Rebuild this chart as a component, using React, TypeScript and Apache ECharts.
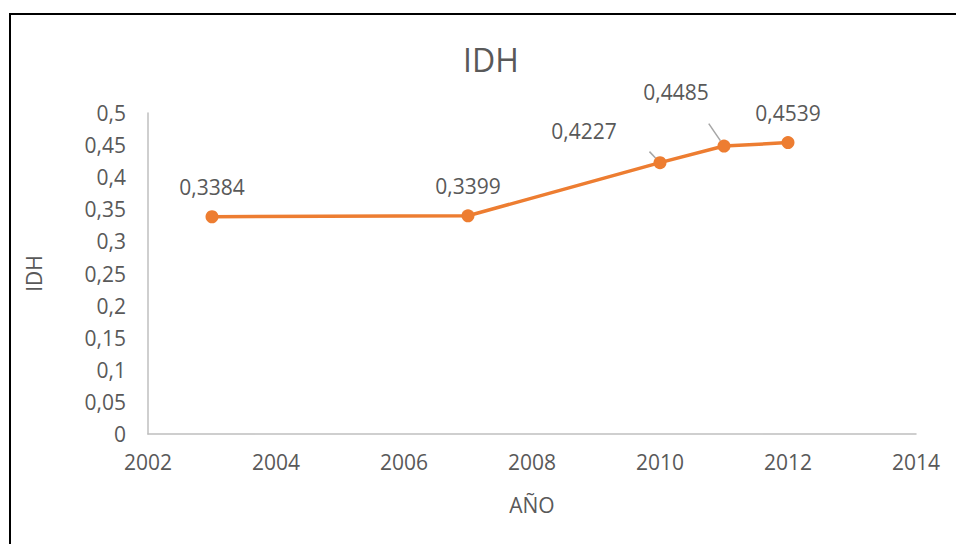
import React, { useEffect, useRef } from "react";
import * as echarts from "echarts";

const years = [2003, 2007, 2010, 2011, 2012];
const idh = [0.3384, 0.3399, 0.4227, 0.4485, 0.4539];
const labelOffsets: [number, number][] = [[0, 0], [0, 0], [-76, -2], [-48, -24], [0, 0]];
const showGuide = [false, false, true, true, false];

const fmt = (v: number) => String(v).replace(".", ",");

export default function App() {
  const ref = useRef<HTMLDivElement>(null);
  useEffect(() => {
    const chart = echarts.init(ref.current!, null, { renderer: "svg" });
    const font = "Open Sans";
    const txt = "#595959";
    chart.setOption({
      animation: false,
      backgroundColor: "#fff",
      textStyle: { fontFamily: font },
      title: {
        text: "IDH",
        left: 458,
        top: 38,
        textStyle: { fontFamily: font, fontSize: 32, fontWeight: "normal", color: txt },
      },
      graphic: [
        {
          type: "rect",
          shape: { x: 10, y: 14, width: 980, height: 560 },
          style: { fill: "none", stroke: "#000", lineWidth: 2 },
          silent: true,
        },
      ],
      grid: { left: 148, right: 40, top: 113, bottom: 110 },
      xAxis: {
        type: "value",
        min: 2002,
        max: 2014,
        interval: 2,
        name: "AÑO",
        nameLocation: "middle",
        nameGap: 60,
        nameTextStyle: { fontSize: 21, color: txt, fontFamily: font },
        axisLine: { show: true, lineStyle: { color: "#bfbfbf", width: 1.5 } },
        axisTick: { show: false },
        splitLine: { show: false },
        axisLabel: { formatter: (v: number) => String(v), fontSize: 21, color: txt, margin: 17 },
      },
      yAxis: {
        type: "value",
        min: 0,
        max: 0.5,
        interval: 0.05,
        name: "IDH",
        nameLocation: "middle",
        nameGap: 104,
        nameTextStyle: { fontSize: 21, color: txt, fontFamily: font },
        axisLine: { show: true, lineStyle: { color: "#bfbfbf", width: 1.5 } },
        axisTick: { show: false },
        splitLine: { show: false },
        axisLabel: { formatter: (v: number) => fmt(Math.round(v * 100) / 100), fontSize: 21, color: txt, margin: 22 },
      },
      series: [
        {
          type: "line",
          data: years.map((y, i) => ({
            value: [y, idh[i]],
            label: { offset: labelOffsets[i] },
            labelLine: { show: showGuide[i] },
          })),
          symbol: "circle",
          symbolSize: 13,
          itemStyle: { color: "#ED7D31" },
          lineStyle: { color: "#ED7D31", width: 3.5 },
          label: {
            show: true,
            position: "top",
            distance: 13,
            fontSize: 21,
            color: txt,
            fontFamily: font,
            formatter: (p: any) => fmt(p.value[1]),
          },
          labelLine: { lineStyle: { color: "#a6a6a6", width: 1.5 } },
        },
      ],
    });
    return () => chart.dispose();
  }, []);
  return <div ref={ref} style={{ position: "fixed", left: 0, top: 0, width: 956, height: 544 }} />;
}
